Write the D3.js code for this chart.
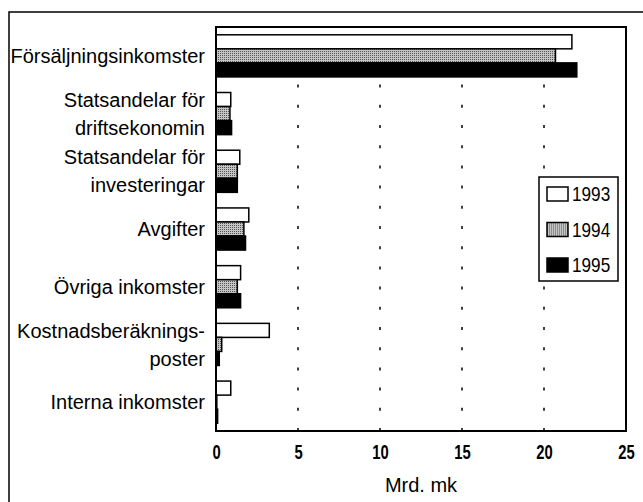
<!DOCTYPE html>
<html>
<head>
<meta charset="utf-8">
<script src="https://cdn.jsdelivr.net/npm/d3@7"></script>
<style>
  html, body { margin: 0; padding: 0; width: 643px; height: 502px; background: #fff; overflow: hidden; }
  svg { display: block; position: absolute; left: 0; top: 0; }
  text { font-family: "Liberation Sans", Arial, sans-serif; fill: #000; }
</style>
</head>
<body>
<svg width="643" height="502" viewBox="0 0 643 502"></svg>
<script>
// Data
var categories = ["Försäljningsinkomster", "Statsandelar för\ndriftsekonomin", "Statsandelar för\ninvesteringar",
                  "Avgifter", "Övriga inkomster", "Kostnadsberäknings-\nposter", "Interna inkomster"];
var years = ["1993", "1994", "1995"];
var v1993 = [21.7, 0.9, 1.45, 2.0, 1.5, 3.25, 0.9];
var v1994 = [20.7, 0.85, 1.3, 1.7, 1.3, 0.35, 0.05];
var v1995 = [22.0, 0.95, 1.3, 1.8, 1.5, 0.2, 0.1];
var xTicks = [0, 5, 10, 15, 20, 25];
var gridTicks = [5, 10, 15, 20];

var series = [v1993, v1994, v1995];

var svg = d3.select("svg");
var margin = {left: 216, right: 17, top: 27, bottom: 71};
var width = 643 - margin.left - margin.right,
    height = 502 - margin.top - margin.bottom;

// stipple pattern for 1994
var defs = svg.append("defs");
var pat = defs.append("pattern")
    .attr("id", "stipple")
    .attr("width", 2).attr("height", 2)
    .attr("patternUnits", "userSpaceOnUse");
pat.append("rect").attr("width", 2).attr("height", 2).attr("fill", "#c4c4c4");
pat.append("rect").attr("width", 1).attr("height", 1).attr("fill", "#555");
var fills = ["#fff", "url(#stipple)", "#000"];

// outer frame (only top and left edges are inside the picture)
svg.append("path")
    .attr("d", "M9,502V12H643")
    .attr("fill", "none").attr("stroke", "#000").attr("stroke-width", 1.5);

var g = svg.append("g").attr("transform", "translate(" + margin.left + "," + margin.top + ")");

var x = d3.scaleLinear().domain([0, 25]).range([0, width]);
var y0 = d3.scaleBand().domain(categories).range([0, height])
    .paddingInner(0.27).paddingOuter(0.135);
var y1 = d3.scaleBand().domain(years).range([0, y0.bandwidth()]);

// dashed grid
g.selectAll(".grid").data(gridTicks).enter().append("line")
    .attr("x1", function(d) { return x(d); })
    .attr("x2", function(d) { return x(d); })
    .attr("y1", height).attr("y2", 0)
    .attr("stroke", "#000").attr("stroke-width", 1.5)
    .attr("stroke-dasharray", "3,17.2");

// bars
years.forEach(function(yr, i) {
  g.selectAll(".bar" + yr).data(series[i]).enter().append("rect")
      .attr("x", 0)
      .attr("y", function(d, j) { return y0(categories[j]) + y1(yr); })
      .attr("width", function(d) { return x(d); })
      .attr("height", y1.bandwidth())
      .attr("fill", fills[i])
      .attr("stroke", "#000").attr("stroke-width", 1.5);
});

// plot frame
g.append("rect")
    .attr("width", width).attr("height", height)
    .attr("fill", "none").attr("stroke", "#000").attr("stroke-width", 2);

// category labels
categories.forEach(function(c) {
  var lines = c.split("\n");
  var cy = y0(c) + y0.bandwidth() / 2;
  var t = g.append("text")
      .attr("text-anchor", "end")
      .attr("font-size", 20);
  lines.forEach(function(l, k) {
    t.append("tspan")
        .attr("x", -11)
        .attr("y", cy + (k - (lines.length - 1) / 2) * 28)
        .attr("dy", "0.36em")
        .text(l);
  });
});

// x axis labels (condensed digits)
var xAxis = d3.axisBottom(x).tickValues(xTicks).tickSize(0);
var ax = g.append("g").attr("transform", "translate(0," + height + ")").call(xAxis);
ax.select(".domain").remove();
ax.selectAll("text")
    .attr("y", 28).attr("dy", 0)
    .attr("font-size", 20)
    .attr("font-weight", "bold")
    .attr("transform", "scale(0.74,1)");

g.append("text")
    .attr("x", width / 2).attr("y", height + 61)
    .attr("text-anchor", "middle")
    .attr("font-size", 20)
    .text("Mrd. mk");

// legend
var leg = g.append("g").attr("transform", "translate(" + (width - 87) + "," + 150 + ")");
leg.append("rect")
    .attr("width", 79).attr("height", 104)
    .attr("fill", "#fff").attr("stroke", "#000").attr("stroke-width", 1.5);
years.forEach(function(yr, i) {
  var row = leg.append("g").attr("transform", "translate(8," + (17 + i * 35.5) + ")");
  row.append("rect")
      .attr("y", -7).attr("width", 21).attr("height", 14)
      .attr("fill", fills[i]).attr("stroke", "#000").attr("stroke-width", 1.5);
  row.append("text")
      .attr("transform", "translate(25,0) scale(0.86,1)")
      .attr("dy", "0.36em")
      .attr("font-size", 20)
      .text(yr);
});
</script>
</body>
</html>
